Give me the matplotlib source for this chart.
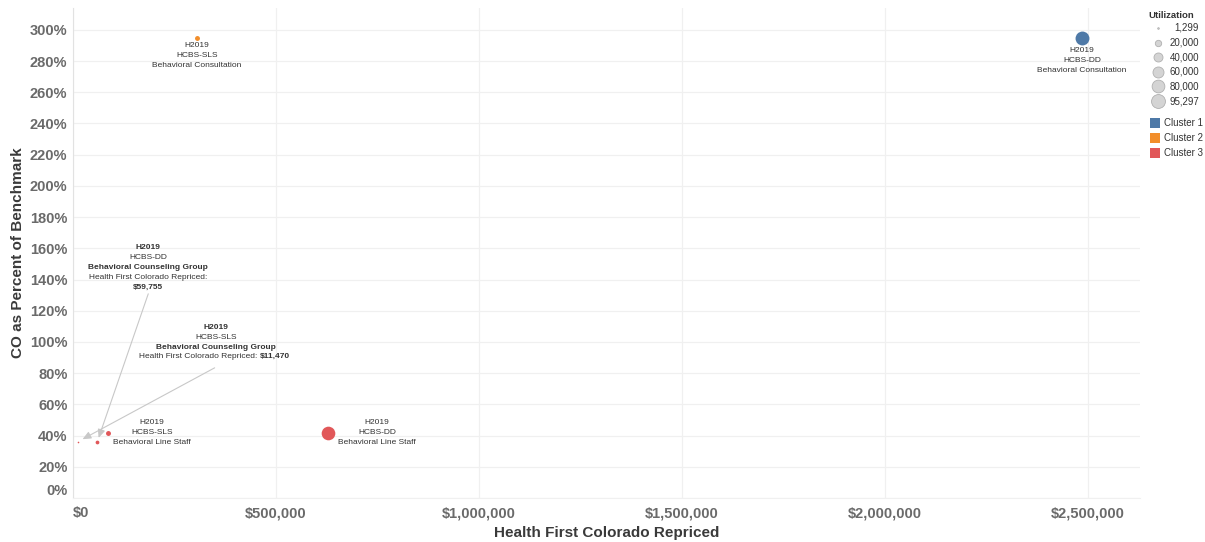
import matplotlib.pyplot as plt
from matplotlib.ticker import FuncFormatter, MultipleLocator

plt.rcParams['font.family'] = ['Liberation Sans', 'DejaVu Sans']

# data
year = 'H2019'
program = ['HCBS-DD', 'HCBS-SLS', 'HCBS-DD', 'HCBS-SLS', 'HCBS-DD', 'HCBS-SLS']
service = ['Behavioral Consultation', 'Behavioral Consultation', 'Behavioral Line Staff',
           'Behavioral Line Staff', 'Behavioral Counseling Group', 'Behavioral Counseling Group']
repriced = [2485000, 305000, 628000, 86000, 59755, 11470]
pct_benchmark = [2.95, 2.95, 0.417, 0.417, 0.36, 0.36]
utilization = [95297, 12000, 92000, 12000, 7000, 1299]
cluster = [1, 2, 3, 3, 3, 3]

cluster_names = ['Cluster 1', 'Cluster 2', 'Cluster 3']
cluster_colors = ['#4e79a7', '#f28e2b', '#e15759']
size_legend = [1299, 20000, 40000, 60000, 80000, 95297]

SIZE_MAX = 100   # marker area (pt^2) for the largest utilization
PX = 0.72        # points per pixel at dpi 100
TXT = '#333333'
FS = 6.0

fig = plt.figure(figsize=(12.05, 5.42), dpi=100)
ax = fig.add_axes([73/1205, 44/542, 1067/1205, 490/542])
ax.set_xlim(0, 2628000)
ax.set_ylim(0, 3.14)

for i in range(len(repriced)):
    ax.scatter(repriced[i], pct_benchmark[i], s=utilization[i]/95297*SIZE_MAX,
               color=cluster_colors[cluster[i]-1], linewidths=0, zorder=3)

# axes styling
ax.xaxis.set_major_locator(MultipleLocator(500000))
ax.yaxis.set_major_locator(MultipleLocator(0.2))
ax.xaxis.set_major_formatter(FuncFormatter(lambda v, p: f'${v:,.0f}'))
ax.yaxis.set_major_formatter(FuncFormatter(lambda v, p: f'{v*100:.0f}%'))
ax.tick_params(length=0, labelsize=10.5, labelcolor='#6a6a6a')
ax.tick_params(axis='x', pad=6)
ax.tick_params(axis='y', pad=4)
for lab in ax.get_xticklabels() + ax.get_yticklabels():
    lab.set_fontweight('bold')
ax.grid(True, color='#f0f0f0', lw=0.9)
ax.set_axisbelow(True)
for s in ['top', 'right']:
    ax.spines[s].set_visible(False)
ax.spines['left'].set_color('#e2e2e2')
ax.spines['bottom'].set_color('#f0f0f0')

fig.canvas.draw()
for lab in ax.get_xticklabels():
    lab.set_fontweight('bold')
    if lab.get_text() == '$0':
        lab.set_ha('left')
for lab in ax.get_yticklabels():
    lab.set_fontweight('bold')
    if lab.get_text() == '0%':
        lab.set_va('bottom')

fig.text(607/1205, 1-533/542, 'Health First Colorado Repriced', ha='center', va='center',
         fontsize=11, fontweight='bold', color='#3a3a3a')
fig.text(18/1205, 1-253/542, 'CO as Percent of Benchmark', ha='center', va='center',
         rotation=90, fontsize=11, fontweight='bold', color='#3a3a3a')


def stacked(i, lines, dx, dy0, step=9.8):
    # lines: list of (text, bold); dx, dy0 in pixels (dy0 downward)
    for k, (t, b) in enumerate(lines):
        ax.annotate(t, (repriced[i], pct_benchmark[i]),
                    xytext=(dx*PX, -(dy0 + k*step)*PX), textcoords='offset points',
                    ha='center', va='center', fontsize=FS, color=TXT,
                    fontweight='bold' if b else 'normal', zorder=4)


# plain mark labels
label_offsets = {0: (0, 13), 1: (0, 8), 2: (49, -10), 3: (44, -10)}
for i, (dx, dy) in label_offsets.items():
    stacked(i, [(year, False), (program[i], False), (service[i], False)], dx, dy)

# callouts with arrows
stacked(4, [(year, True), (program[4], False), (service[4], True),
            ('Health First Colorado Repriced:', False), (f'${repriced[4]:,}', True)], 51, -194)
stacked(5, [(year, True), (program[5], False), (service[5], True)], 138, -114)
pt5 = (repriced[5], pct_benchmark[5])
ax.annotate('Health First Colorado Repriced: ', pt5, xytext=(182*PX, 85*PX),
            textcoords='offset points', ha='right', va='center', fontsize=FS, color=TXT)
ax.annotate(f'${repriced[5]:,}', pt5, xytext=(182*PX, 85*PX),
            textcoords='offset points', ha='left', va='center', fontsize=FS,
            fontweight='bold', color=TXT)

arrow = dict(arrowstyle='-|>,head_length=0.5,head_width=0.22', color='#c8c8c8', lw=0.8,
             shrinkA=0, shrinkB=3)
ax.annotate('', (repriced[4], pct_benchmark[4]), xytext=(51*PX, 148*PX),
            textcoords='offset points', arrowprops=arrow)
ax.annotate('', (repriced[5], pct_benchmark[5]), xytext=(137*PX, 74*PX),
            textcoords='offset points', arrowprops=dict(arrow, shrinkB=4))

# legend drawn in pixel space
lax = fig.add_axes([0, 0, 1, 1], facecolor='none')
lax.set_xlim(0, 1205)
lax.set_ylim(542, 0)
lax.axis('off')
lax.text(1148, 15, 'Utilization', fontsize=6.8, fontweight='bold', va='center', color=TXT)
for i, v in enumerate(size_legend):
    yy = 28 + i*14.6
    lax.scatter(1158, yy, s=v/95297*SIZE_MAX, color='#d4d4d4', edgecolors='#b0b0b0',
                linewidths=0.6)
    lax.text(1199, yy, f'{v:,}', ha='right', va='center', fontsize=7, color=TXT)
for i, name in enumerate(cluster_names):
    yy = 123 + i*15
    lax.scatter(1155, yy, marker='s', s=52, color=cluster_colors[i], linewidths=0)
    lax.text(1164, yy, name, va='center', fontsize=7, color=TXT)

fig.savefig('out.png', dpi=100)
